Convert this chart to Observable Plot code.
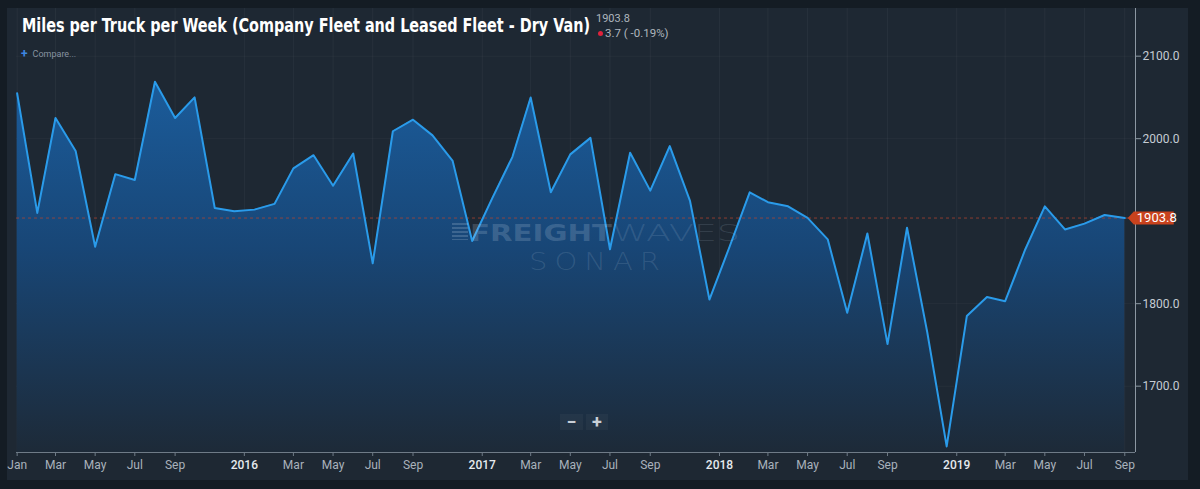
<!DOCTYPE html>
<html><head><meta charset="utf-8">
<script src="https://cdn.jsdelivr.net/npm/d3@7"></script>
<script src="https://cdn.jsdelivr.net/npm/@observablehq/plot@0.6"></script>
<style>
html,body{margin:0;padding:0;background:#141c24;}
#wrap{position:relative;width:1200px;height:489px;overflow:hidden;background:#141c24;font-family:Roboto,"Noto Sans",sans-serif;}
#panel{position:absolute;left:7px;top:8px;width:1181px;height:472px;background:#1e2833;}
#chart{position:absolute;left:0;top:0;}
.abs{position:absolute;white-space:nowrap;line-height:1;transform-origin:0 50%;}
#title{left:22px;top:15px;font-family:"Liberation Sans Narrow","DejaVu Sans Condensed",Roboto,sans-serif;font-weight:bold;font-size:20px;color:#ffffff;}
#hv{left:596px;top:13px;font-size:11px;color:#aeb6be;}
#hc{left:598px;top:28px;font-size:11.5px;color:#aeb6be;}
#hc .dot{display:inline-block;width:5px;height:5px;border-radius:50%;background:#e0223c;margin-right:2px;vertical-align:1px;}
#cmp{left:21px;top:48px;font-size:9px;color:#8793a0;}
#cmp b{color:#3d86e0;font-size:12px;font-weight:bold;margin-right:5px;vertical-align:-1px;}
.wm{pointer-events:none;color:rgba(205,220,235,0.2);}
#wm1{left:470px;top:222px;font-family:"DejaVu Sans",sans-serif;font-weight:bold;font-size:23px;}
#wm2{left:612px;top:222px;font-family:"DejaVu Sans",sans-serif;font-weight:200;font-size:23px;color:rgba(205,220,235,0.14);}
#wm3{left:529px;top:249px;font-family:"DejaVu Sans",sans-serif;font-weight:200;font-size:25px;letter-spacing:6px;color:rgba(205,220,235,0.14);}
#wmicon{position:absolute;left:452px;top:223px;width:16px;height:17px;background:repeating-linear-gradient(to bottom,rgba(205,220,235,0.2) 0 2px,transparent 2px 4px);}
.zb{position:absolute;top:414px;height:16px;background:rgba(255,255,255,0.035);color:#c9d0d7;font-weight:bold;font-size:18px;line-height:16px;text-align:center;}
</style></head><body>
<div id="wrap">
  <div id="panel"></div>
  <div id="chart"></div>
  <div id="wmicon"></div>
  <div id="wm1" class="abs wm">FREIGHT</div>
  <div id="wm2" class="abs wm">WAVES</div>
  <div id="wm3" class="abs wm">SONAR</div>
  <div class="zb" style="left:560px;width:23px;">−</div>
  <div class="zb" style="left:586px;width:22px;">+</div>
  <div id="title" class="abs">Miles per Truck per Week (Company Fleet and Leased Fleet - Dry Van)</div>
  <div id="hv" class="abs">1903.8</div>
  <div id="hc" class="abs"><span class="dot"></span>3.7 ( -0.19%)</div>
  <div id="cmp" class="abs"><b>+</b>Compare...</div>
</div>
<script>
// ---- data ----
const months = [
  "2015-01","2015-02","2015-03","2015-04","2015-05","2015-06","2015-07","2015-08","2015-09","2015-10","2015-11","2015-12",
  "2016-01","2016-02","2016-03","2016-04","2016-05","2016-06","2016-07","2016-08","2016-09","2016-10","2016-11","2016-12",
  "2017-01","2017-02","2017-03","2017-04","2017-05","2017-06","2017-07","2017-08","2017-09","2017-10","2017-11","2017-12",
  "2018-01","2018-02","2018-03","2018-04","2018-05","2018-06","2018-07","2018-08","2018-09","2018-10","2018-11","2018-12",
  "2019-01","2019-02","2019-03","2019-04","2019-05","2019-06","2019-07","2019-08","2019-09"
];
const milesPerTruck = [
  2055, 1910, 2025, 1985, 1869, 1957, 1950, 2069, 2025, 2050, 1916, 1912,
  1914, 1921, 1964, 1980, 1943, 1982, 1849, 2009, 2023, 2004, 1973, 1876,
  1928, 1978, 2050, 1935, 1981, 2001, 1866, 1983, 1937, 1991, 1925, 1805,
  1869, 1935, 1923, 1918, 1904, 1878, 1789, 1885, 1751, 1892, 1766, 1627,
  1785, 1808, 1803, 1866, 1918, 1890, 1897, 1907.5, 1903.8
];
const monthTicks = ["2015-01","2015-03","2015-05","2015-07","2015-09",
  "2016-03","2016-05","2016-07","2016-09",
  "2017-03","2017-05","2017-07","2017-09",
  "2018-03","2018-05","2018-07","2018-09",
  "2019-03","2019-05","2019-07","2019-09"];
const yearLabels = ["2016","2017","2018","2019"];
const yTicks = [1700, 1800, 2000, 2100];
const yDomain = [1619.6, 2157.8];

// ---- build ----
const parse = d3.utcParse("%Y-%m");
const data = months.map((m, i) => ({date: parse(m), value: milesPerTruck[i]}));
const last = data[data.length - 1];
const day = 864e5;
const xDomain = [new Date(+data[0].date - day), new Date(+last.date + 16.5 * day)];
const monthTickDates = monthTicks.map(parse);
// ordinal-style axis: year tick sits midway between December and January points
const yearTickDates = yearLabels.map(y => {
  const jan = parse(y + "-01");
  const dec = parse((+y - 1) + "-12");
  return new Date((+jan + +dec) / 2);
});
const yearMap = new Map(yearTickDates.map((d, i) => [+d, yearLabels[i]]));

const tagSymbol = {
  draw(ctx) {
    ctx.moveTo(3, 0); ctx.lineTo(9, -6.5); ctx.lineTo(49, -6.5);
    ctx.lineTo(49, 6.5); ctx.lineTo(9, 6.5); ctx.closePath();
  }
};

const svg = Plot.plot({
  width: 1200, height: 489,
  marginLeft: 16, marginRight: 65, marginTop: 8, marginBottom: 37,
  style: {background: "transparent", fontFamily: "Roboto, sans-serif", fontSize: "12px", color: "#aab3bd"},
  x: {type: "utc", domain: xDomain},
  y: {domain: yDomain},
  marks: [
    Plot.gridX([...monthTickDates, ...yearTickDates], {stroke: "#ffffff", strokeOpacity: 0.045}),
    Plot.gridY(yTicks, {stroke: "#ffffff", strokeOpacity: 0.035}),
    Plot.areaY(data, {x: "date", y1: yDomain[0], y2: "value", fill: "url(#areaGrad)"}),
    Plot.ruleY([last.value], {stroke: "#b8432f", strokeOpacity: 0.7, strokeDasharray: "3,3"}),
    Plot.lineY(data, {x: "date", y: "value", stroke: "#2a9bea", strokeWidth: 2}),
    Plot.ruleX([xDomain[1]], {stroke: "#8c97a2"}),
    Plot.ruleY([yDomain[0]], {stroke: "#6f7b87"}),
    Plot.axisX({ticks: monthTickDates, tickFormat: d3.utcFormat("%b"), tickSize: 4, tickPadding: 4,
      stroke: "#6f7b87", fill: "#a9b2bc", fontSize: 12, label: null}),
    Plot.axisX({ticks: yearTickDates, tickFormat: d => yearMap.get(+d), tickSize: 4, tickPadding: 4,
      stroke: "#6f7b87", fill: "#e6eaee", fontSize: 12, fontWeight: 500, label: null}),
    Plot.axisY({ticks: yTicks, anchor: "right", tickFormat: d => d.toFixed(1), tickSize: 5, tickPadding: 2,
      stroke: "#8c97a2", fill: "#c5ccd3", fontSize: 12, label: null}),
    Plot.dot([last], {x: "date", y: "value", symbol: tagSymbol, fill: "#c8421d", r: 5}),
    Plot.text([last], {x: "date", y: "value", text: d => d.value.toFixed(1), dx: 12, textAnchor: "start",
      fill: "#ffffff", fontSize: 13})
  ]
});

const defs = d3.select(svg).insert("defs", ":first-child");
const grad = defs.append("linearGradient").attr("id", "areaGrad")
  .attr("x1", 0).attr("y1", 0).attr("x2", 0).attr("y2", 1);
grad.append("stop").attr("offset", "0%").attr("stop-color", "#1b5c9b");
grad.append("stop").attr("offset", "45%").attr("stop-color", "#184676");
grad.append("stop").attr("offset", "100%").attr("stop-color", "#1d2a38");

document.getElementById("chart").appendChild(svg);

function fit(id, w) {
  const el = document.getElementById(id);
  const cw = el.getBoundingClientRect().width;
  if (cw > 0) el.style.transform = `scaleX(${w / cw})`;
}
fit("title", 568);
fit("wm1", 142);
fit("wm2", 128);
fit("wm3", 138);
</script>
</body></html>
